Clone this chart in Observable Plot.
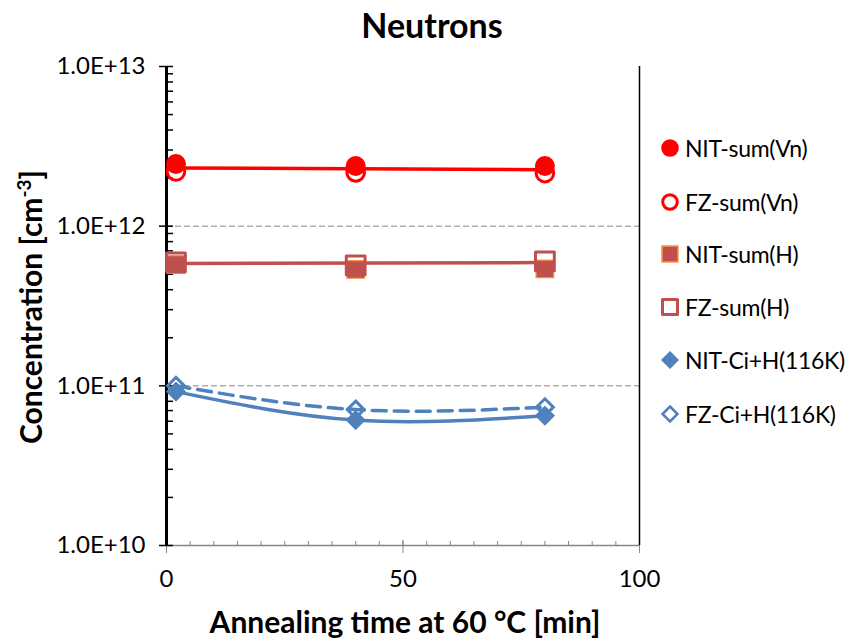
<!DOCTYPE html>
<html>
<head>
<meta charset="utf-8">
<script src="https://cdn.jsdelivr.net/npm/d3@7"></script>
<script src="https://cdn.jsdelivr.net/npm/@observablehq/plot@0.6"></script>
<style>
  html, body { margin: 0; padding: 0; background: #fff; }
  #chart { position: relative; width: 852px; height: 638px; font-family: Lato, "Open Sans", sans-serif; color: #000; overflow: hidden; }
  #chart svg.plot { position: absolute; left: 0; top: 0; font-family: Lato, "Open Sans", sans-serif; }
  .title { position: absolute; left: 0; width: 864px; top: 5px; text-align: center; font-weight: bold; font-size: 34px; line-height: 1.2; }
  .xlabel { position: absolute; left: 0; width: 810px; top: 603px; text-align: center; font-weight: bold; font-size: 30px; line-height: 1.2; }
  .ylabel { position: absolute; left: 30px; top: 307px; transform: translate(-50%, -50%) rotate(-90deg); white-space: nowrap; font-weight: bold; font-size: 30px; line-height: 1.2; }
  .ylabel sup { font-size: 19px; vertical-align: 11px; line-height: 0; }
  .legend-item { position: absolute; left: 659px; height: 28px; display: flex; align-items: center; font-size: 23px; letter-spacing: -0.3px; white-space: nowrap; }
  .legend-item svg { width: 22px; height: 22px; margin-right: 4px; }
</style>
</head>
<body>
<div id="chart">
  <div class="title">Neutrons</div>
  <div class="ylabel">Concentration [cm<sup>-3</sup>]</div>
  <div class="xlabel">Annealing time at 60 °C [min]</div>
</div>
<script>
// Annealing times (min)
const times = [2, 40, 80];

// Concentrations (cm^-3) per sample and defect group
const nitSumVn = [2.45e12, 2.38e12, 2.38e12];
const fzSumVn  = [2.20e12, 2.17e12, 2.15e12];
const nitSumH  = [5.75e11, 5.36e11, 5.40e11];
const fzSumH   = [5.93e11, 5.68e11, 6.01e11];
const nitCiH   = [9.2e10, 6.1e10, 6.5e10];
const fzCiH    = [1.0e11, 7.1e10, 7.35e10];

// Axis ticks and labels
const xTicks = [0, 50, 100];
const xMinorTicks = [0, 5, 10, 15, 20, 25, 30, 35, 40, 45, 50, 55, 60, 65, 70, 75, 80, 85, 90, 95, 100];
const yTicks = [1e10, 1e11, 1e12, 1e13];
const yTickLabels = ["1.0E+10", "1.0E+11", "1.0E+12", "1.0E+13"];
const yGridTicks = [1e11, 1e12];
const yMinorTicks = [1e10, 1e11, 1e12].flatMap(p => [2, 3, 4, 5, 6, 7, 8, 9].map(m => m * p));

const seriesNames = ["NIT-sum(Vn)", "FZ-sum(Vn)", "NIT-sum(H)", "FZ-sum(H)", "NIT-Ci+H(116K)", "FZ-Ci+H(116K)"];

const RED = "#ff0000", BROWN = "#c0504d", ORANGE = "#f79646", BLUE = "#4f81bd", GREY = "#868686";

const rows = values => times.map((t, i) => ({t, v: values[i]}));
const vnBoth = rows(nitSumVn).concat(rows(fzSumVn));

const plot = Plot.plot({
  width: 852,
  height: 638,
  marginLeft: 166,
  marginRight: 213,
  marginTop: 66,
  marginBottom: 93,
  x: {domain: [0, 100]},
  y: {type: "log", domain: [1e10, 1e13]},
  style: {fontFamily: "Lato, 'Open Sans', sans-serif", fontSize: "24px", color: "#000", background: "transparent", overflow: "visible"},
  marks: [
    // dashed horizontal grid at the inner decades
    Plot.gridY(yGridTicks, {stroke: GREY, strokeOpacity: 1, strokeWidth: 1, strokeDasharray: "6,3"}),

    // x axis: grey baseline, ticks and labels
    Plot.ruleY([1e10], {stroke: GREY, strokeWidth: 1.5}),
    Plot.axisX(xMinorTicks, {tickSize: -4, fill: "none", stroke: GREY, label: null}),
    Plot.axisX(xTicks, {tickSize: -5, fill: "none", stroke: GREY, label: null}),
    Plot.axisX(xTicks, {tickSize: 8, tickPadding: 16, stroke: GREY, fill: "#000", fontSize: 24, label: null}),

    // y axis: black spine, crossing major ticks, inner minor ticks
    Plot.ruleX([0], {stroke: "#000", strokeWidth: 3}),
    Plot.ruleX([100], {stroke: "#000", strokeWidth: 1.5}),
    Plot.axisY(yTicks.concat(yMinorTicks), {tickSize: -7, fill: "none", stroke: "#000", strokeWidth: 1.5, label: null}),
    Plot.axisY(yTicks, {
      tickSize: 7, tickPadding: 14, stroke: "#000", strokeWidth: 1.5, fill: "#000", fontSize: 24, label: null,
      tickFormat: d => yTickLabels[yTicks.indexOf(d)]
    }),

    // trend lines
    Plot.linearRegressionY(vnBoth, {x: "t", y: "v", stroke: RED, strokeWidth: 3.5, ci: 0}),
    Plot.linearRegressionY(rows(fzSumH), {x: "t", y: "v", stroke: BROWN, strokeWidth: 3.5, ci: 0}),
    Plot.line(rows(nitCiH), {x: "t", y: "v", curve: "natural", stroke: BLUE, strokeWidth: 3.5}),
    Plot.line(rows(fzCiH), {x: "t", y: "v", curve: "natural", stroke: BLUE, strokeWidth: 3.5, strokeDasharray: "14,8"}),

    // markers
    Plot.dot(rows(nitSumVn), {x: "t", y: "v", r: 10, fill: RED, stroke: "none"}),
    Plot.dot(rows(fzSumVn), {x: "t", y: "v", r: 8.8, fill: "none", stroke: RED, strokeWidth: 3}),
    Plot.dot(rows(nitSumH), {x: "t", y: "v", symbol: "square", r: 10, fill: BROWN, stroke: ORANGE, strokeWidth: 1.2, strokeLinejoin: "round"}),
    Plot.dot(rows(fzSumH), {x: "t", y: "v", symbol: "square", r: 10.6, fill: "none", stroke: BROWN, strokeWidth: 3, strokeLinejoin: "round"}),
    Plot.dot(rows(nitCiH), {x: "t", y: "v", symbol: "diamond2", r: 8.6, fill: BLUE, stroke: BLUE, strokeWidth: 1, strokeLinejoin: "round"}),
    Plot.dot(rows(fzCiH), {x: "t", y: "v", symbol: "diamond2", r: 7.6, fill: "none", stroke: BLUE, strokeWidth: 3})
  ]
});
plot.classList.add("plot");
const chart = document.getElementById("chart");
chart.insertBefore(plot, chart.firstChild);

// legend
const legendMarkers = [
  `<circle cx="11" cy="11" r="8.8" fill="${RED}"/>`,
  `<circle cx="11" cy="11" r="7.3" fill="#fff" stroke="${RED}" stroke-width="3"/>`,
  `<rect x="3" y="3" width="16" height="16" fill="${BROWN}" stroke="${ORANGE}" stroke-width="1.5"/>`,
  `<rect x="3.5" y="3.5" width="15" height="15" fill="#fff" stroke="${BROWN}" stroke-width="3" stroke-linejoin="round"/>`,
  `<polygon points="11,2 20,11 11,20 2,11" fill="${BLUE}"/>`,
  `<polygon points="11,3.5 18.5,11 11,18.5 3.5,11" fill="#fff" stroke="${BLUE}" stroke-width="2.5"/>`
];
const legendY = [148, 201.5, 253.5, 306.5, 360, 413.5];
seriesNames.forEach((name, i) => {
  const item = document.createElement("div");
  item.className = "legend-item";
  item.style.top = (legendY[i] - 14) + "px";
  item.innerHTML = `<svg viewBox="0 0 22 22">${legendMarkers[i]}</svg><span>${name}</span>`;
  chart.appendChild(item);
});
</script>
</body>
</html>
